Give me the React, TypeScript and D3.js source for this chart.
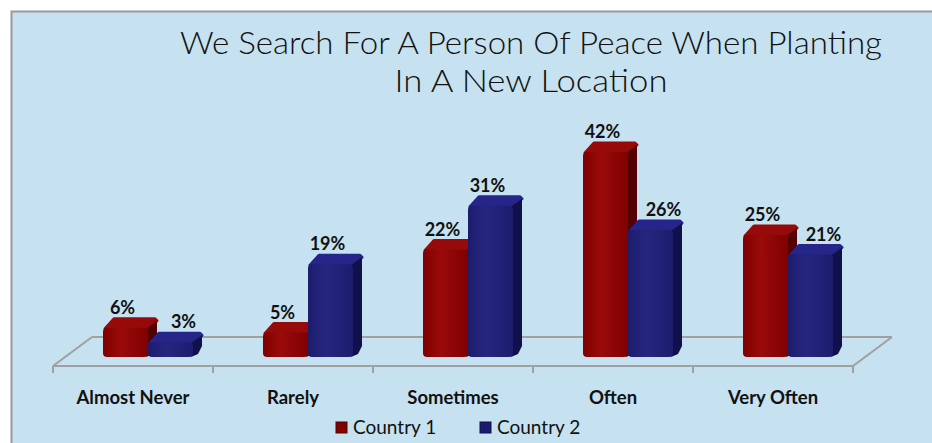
import React from "react";
import * as d3 from "d3";

const categories = ["Almost Never", "Rarely", "Sometimes", "Often", "Very Often"];
const series = ["Country 1", "Country 2"];
const country1 = [6, 5, 22, 42, 25];
const country2 = [3, 19, 31, 26, 21];
const titleLines = ["We Search For A Person Of Peace When Planting", "In A New Location"];

const W = 932, H = 443;
const colors = {
  front: ["#800000", "#1c1c6e"],
  light: ["#9a0a0a", "#26267f"],
  side: ["#540000", "#10104a"],
  top: ["#960a0a", "#25258a"],
};

export default function App() {
  const x = d3.scaleBand<string>().domain(categories).range([53, 853]).paddingInner(0).paddingOuter(0);
  const y = d3.scaleLinear().domain([0, 42]).range([357, 152]);
  const depth = 9;
  const barW = 45;
  const data = [country1, country2];
  const font = "Lato, 'Open Sans', sans-serif";

  const floorBack = 337, floorFront = 366, floorShift = 39;

  return (
    <svg width={W} height={H} style={{ position: "absolute", left: 0, top: 0 }} xmlns="http://www.w3.org/2000/svg">
      <defs>
        {[0, 1].map((s) => (
          <linearGradient key={s} id={`g${s}`} x1="0" x2="1" y1="0" y2="0">
            <stop offset="0" stopColor={colors.front[s]} />
            <stop offset="0.4" stopColor={colors.light[s]} />
            <stop offset="1" stopColor={colors.front[s]} />
          </linearGradient>
        ))}
      </defs>
      <rect x={0} y={0} width={W} height={H} fill="#ffffff" />
      <rect x={11.5} y={11.5} width={W + 20} height={H + 20} fill="#c6e1ef" stroke="#9a9a9a" strokeWidth={2} />
      {titleLines.map((t, i) => (
        <text key={i} x={531} y={54 + i * 38} textAnchor="middle" fontFamily={font} fontWeight={300}
          fontSize={32} fill="#111" textLength={i === 0 ? 702 : 273} lengthAdjust="spacingAndGlyphs">{t}</text>
      ))}
      {/* floor */}
      <g stroke="#a0a0a0" strokeWidth={2} fill="none">
        <line x1={53 + floorShift} y1={floorBack} x2={853 + floorShift} y2={floorBack} />
        <line x1={53} y1={floorFront} x2={853} y2={floorFront} />
        <line x1={53} y1={floorFront} x2={53 + floorShift} y2={floorBack} />
        <line x1={853} y1={floorFront} x2={853 + floorShift} y2={floorBack} />
        {d3.range(categories.length + 1).map((i) => (
          <line key={i} x1={53 + i * x.bandwidth()} x2={53 + i * x.bandwidth()} y1={floorFront} y2={floorFront + 7} />
        ))}
      </g>
      {/* bars */}
      {categories.map((c, i) => {
        const cx = (x(c) as number) + x.bandwidth() / 2;
        return (
          <g key={c}>
            {data.map((vals, s) => {
              const x0 = s === 0 ? cx - 30 : cx + 15;
              const yt = y(vals[i]);
              const yb = y(0);
              const shifted = s === 1 && vals[i] < data[0][i];
              const lx = x0 + barW / 2 + (shifted ? 13 : -3);
              const top = `M${x0 + 2},${yt + 1} L${x0 + barW},${yt + 1} L${x0 + barW + depth},${yt - depth + 2} L${x0 + barW + depth - 2},${yt - depth} L${x0 + depth + 2},${yt - depth} Z`;
              const side = `M${x0 + barW - 2},${yt + 1} L${x0 + barW + depth},${yt - depth + 2} L${x0 + barW + depth},${yb - depth - 2} L${x0 + barW + depth - 4},${yb - 3} L${x0 + barW - 2},${yb} Z`;
              return (
                <g key={s}>
                  <path d={top} fill={colors.top[s]} stroke={colors.top[s]} strokeWidth={3} strokeLinejoin="round" />
                  <path d={side} fill={colors.side[s]} />
                  <rect x={x0} y={yt} width={barW} height={yb - yt} rx={4} fill={`url(#g${s})`} />
                  <text x={lx} y={yt - 14} textAnchor="middle" fontFamily={font} fontWeight={700}
                    fontSize={18} fill="#111">{vals[i]}%</text>
                </g>
              );
            })}
            <text x={cx} y={404} textAnchor="middle" fontFamily={font} fontWeight={700} fontSize={18.5} fill="#111">{c}</text>
          </g>
        );
      })}
      {/* legend */}
      {series.map((s, i) => {
        const lx = i === 0 ? 336 : 480;
        return (
          <g key={s}>
            <rect x={lx} y={422} width={11} height={11} fill={colors.front[i]} stroke={colors.side[i]} strokeWidth={1} />
            <text x={lx + 17} y={434} fontFamily={font} fontWeight={400} fontSize={19} fill="#111">{s}</text>
          </g>
        );
      })}
    </svg>
  );
}
